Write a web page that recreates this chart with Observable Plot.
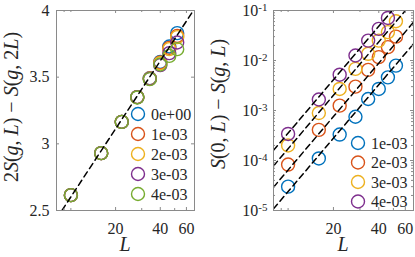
<!DOCTYPE html>
<html><head><meta charset="utf-8">
<script src="https://cdn.jsdelivr.net/npm/d3@7"></script>
<script src="https://cdn.jsdelivr.net/npm/@observablehq/plot@0.6"></script>
<style>
body{margin:0;background:#fff;}
#wrap{position:relative;width:415px;height:257px;overflow:hidden;}
#wrap svg{position:absolute;top:0;}
</style></head><body><div id="wrap"></div>
<script>
// ---------- data ----------
const L = [10, 16, 22, 28, 34, 40, 46, 52];
const xDomain = [8, 68];
const xTickLabels = [20, 40, 60];
const xMinorTicks = [8, 9, 10, 30, 50];

const leftSeries = ["0e+00", "1e-03", "2e-03", "3e-03", "4e-03"];
const leftColors = ["#0072BD", "#D95319", "#EDB120", "#7E2F8E", "#77AC30"];
const leftV0 = [2.615, 2.93, 3.165, 3.35, 3.492, 3.615, 3.73, 3.83];
const leftV1 = [2.615, 2.93, 3.165, 3.35, 3.49, 3.61, 3.72, 3.81];
const leftV2 = [2.615, 2.93, 3.165, 3.35, 3.49, 3.605, 3.71, 3.80];
const leftV3 = [2.615, 2.93, 3.165, 3.35, 3.488, 3.59, 3.68, 3.76];
const leftV4 = [2.615, 2.93, 3.165, 3.348, 3.485, 3.595, 3.66, 3.71];
const leftValues = [leftV0, leftV1, leftV2, leftV3, leftV4];
const leftFitIntercept = 0.909;   // y = a + b ln L
const leftFitSlope = 0.7355;
const leftYTicks = [2.5, 3, 3.5, 4];

const rightSeries = ["1e-03", "2e-03", "3e-03", "4e-03"];
const rightColors = ["#0072BD", "#D95319", "#EDB120", "#7E2F8E"];
const rightV1 = [3.0e-5, 1.1e-4, 3.3e-4, 7.5e-4, 1.7e-3, 2.7e-3, 4.6e-3, 7.9e-3];
const rightV2 = [8.3e-5, 4.1e-4, 1.25e-3, 3.0e-3, 6.5e-3, 1.17e-2, 1.85e-2, 3.0e-2];
const rightV3 = [2.0e-4, 8.9e-4, 2.7e-3, 6.8e-3, 1.36e-2, 2.5e-2, 3.7e-2, 6.1e-2];
const rightV4 = [3.4e-4, 1.66e-3, 5.2e-3, 1.26e-2, 2.5e-2, 4.3e-2, 7.1e-2, null];
const rightValues = [rightV1, rightV2, rightV3, rightV4];
const rightFitLog10Prefactor = [-8.172, -7.74, -7.315, -7.003];
const rightFitExponent = 3.55;
const rightYTicks = [1e-5, 1e-4, 1e-3, 1e-2, 1e-1];
const rightYMinor = [-5, -4, -3, -2].flatMap(k => [2,3,4,5,6,7,8,9].map(m => m * Math.pow(10, k)));

// ---------- helpers ----------
const FONT = "'Liberation Serif', 'Times New Roman', serif";
const INK = "#262626";
const FRAME = "#8a8a8a";

function tickMarks(frameW, frameH, xMaj, xMin, yMaj, yMin) {
  const m = [];
  const s = {stroke: FRAME, strokeWidth: 1};
  m.push(Plot.ruleX(xMaj, {x: d => d, insetTop: frameH - 3, ...s}));
  m.push(Plot.ruleX(xMaj, {x: d => d, insetBottom: frameH - 3, ...s}));
  m.push(Plot.ruleX(xMin, {x: d => d, insetTop: frameH - 2, ...s}));
  m.push(Plot.ruleX(xMin, {x: d => d, insetBottom: frameH - 2, ...s}));
  m.push(Plot.ruleY(yMaj, {y: d => d, insetRight: frameW - 3, ...s}));
  m.push(Plot.ruleY(yMaj, {y: d => d, insetLeft: frameW - 3, ...s}));
  if (yMin.length) {
    m.push(Plot.ruleY(yMin, {y: d => d, insetRight: frameW - 2, ...s}));
    m.push(Plot.ruleY(yMin, {y: d => d, insetLeft: frameW - 2, ...s}));
  }
  return m;
}

function mathText(svg, x, y, parts, size, rotate) {
  const t = d3.select(svg).append("text")
    .attr("transform", `translate(${x},${y})` + (rotate ? " rotate(-90)" : ""))
    .attr("text-anchor", "middle")
    .attr("font-family", FONT)
    .attr("font-size", size)
    .attr("fill", INK);
  for (const [str, it] of parts) {
    t.append("tspan").attr("font-style", it ? "italic" : "normal").text(str);
  }
}

function legend(svg, x, y0, step, labels, colors) {
  const g = d3.select(svg).append("g");
  labels.forEach((lab, i) => {
    g.append("circle").attr("cx", x).attr("cy", y0 + i * step).attr("r", 6.5)
      .attr("fill", "none").attr("stroke", colors[i]).attr("stroke-width", 1.4);
    g.append("text").attr("x", x + 13).attr("y", y0 + i * step).attr("dy", "0.35em")
      .attr("text-anchor", "start")
      .attr("font-family", FONT).attr("font-size", 16).attr("fill", INK).text(lab);
  });
}

const wrap = document.getElementById("wrap");

// ---------- left panel ----------
{
  const W = 207, H = 257, mL = 56, mR = 13, mT = 10, mB = 47;
  const data = leftSeries.flatMap((s, i) => L.map((l, j) => ({L: l, v: leftValues[i][j], s})));
  const fit = xDomain.map(l => ({L: l, v: leftFitIntercept + leftFitSlope * Math.log(l)}));
  const svg = Plot.plot({
    width: W, height: H, marginLeft: mL, marginRight: mR, marginTop: mT, marginBottom: mB,
    style: {fontFamily: FONT, fontSize: "16px", color: INK, background: "transparent", overflow: "visible"},
    x: {type: "log", domain: xDomain},
    y: {domain: [2.5, 4]},
    color: {domain: leftSeries, range: leftColors},
    marks: [
      Plot.dot(data, {x: "L", y: "v", stroke: "s", r: 6.5, strokeWidth: 1.4}),
      Plot.line(fit, {x: "L", y: "v", stroke: "#000", strokeWidth: 1.5, strokeDasharray: "6,4", clip: true}),
      Plot.frame({stroke: FRAME}),
      ...tickMarks(W - mL - mR, H - mT - mB, xTickLabels, xMinorTicks, leftYTicks, []),
      Plot.axisX({ticks: xTickLabels, tickSize: 0, tickPadding: 12, tickFormat: d => String(d), label: null}),
      Plot.axisY({ticks: leftYTicks, tickSize: 0, tickPadding: 7, tickFormat: d => String(d), label: null})
    ]
  });
  svg.style.left = "0px";
  wrap.appendChild(svg);
  mathText(svg, 18, 107, [["2",0],["S",1],["(",0],["g",1],[", ",0],["L",1],[") − ",0],["S",1],["(",0],["g",1],[", 2",0],["L",1],[")",0]], 20, true);
  mathText(svg, (mL + W - mR) / 2, 251, [["L",1]], 20, false);
  legend(svg, 138, 114, 20, leftSeries, leftColors);
}

// ---------- right panel ----------
{
  const W = 208, H = 257, mL = 66, mR = 2, mT = 10, mB = 47;
  const data = rightSeries.flatMap((s, i) => L.map((l, j) => ({L: l, v: rightValues[i][j], s})))
    .filter(d => d.v != null);
  const fit = rightSeries.flatMap((s, i) => xDomain.map(l => ({L: l, s,
    v: Math.pow(10, rightFitLog10Prefactor[i] + rightFitExponent * Math.log10(l))})));
  const svg = Plot.plot({
    width: W, height: H, marginLeft: mL, marginRight: mR, marginTop: mT, marginBottom: mB,
    style: {fontFamily: FONT, fontSize: "16px", color: INK, background: "transparent", overflow: "visible"},
    x: {type: "log", domain: xDomain},
    y: {type: "log", domain: [1e-5, 1e-1]},
    color: {domain: rightSeries, range: rightColors},
    marks: [
      Plot.dot(data, {x: "L", y: "v", stroke: "s", r: 6.5, strokeWidth: 1.4}),
      Plot.line(fit, {x: "L", y: "v", z: "s", stroke: "#000", strokeWidth: 1.5, strokeDasharray: "6,4", clip: true}),
      Plot.frame({stroke: FRAME}),
      ...tickMarks(W - mL - mR, H - mT - mB, xTickLabels, xMinorTicks, rightYTicks, rightYMinor),
      Plot.axisX({ticks: xTickLabels, tickSize: 0, tickPadding: 12, tickFormat: d => String(d), label: null}),
      Plot.axisY({ticks: rightYTicks, tickSize: 0, tickPadding: 6, tickFormat: d => "10|" + Math.round(Math.log10(d)), label: null})
    ]
  });
  svg.style.left = "207px";
  wrap.appendChild(svg);
  d3.select(svg).selectAll('g[aria-label="y-axis tick label"] text').each(function () {
    const [base, exp] = this.textContent.split("|");
    const t = d3.select(this);
    t.text(null);
    t.append("tspan").text(base);
    t.append("tspan").attr("dy", "-0.45em").attr("font-size", 11).text(exp);
  });
  mathText(svg, 18, 104, [["S",1],["(0, ",0],["L",1],[") − ",0],["S",1],["(",0],["g",1],[", ",0],["L",1],[")",0]], 20, true);
  mathText(svg, (mL + W - mR) / 2, 251, [["L",1]], 20, false);
  legend(svg, 151, 143, 19.5, rightSeries, rightColors);
}
</script></body></html>
